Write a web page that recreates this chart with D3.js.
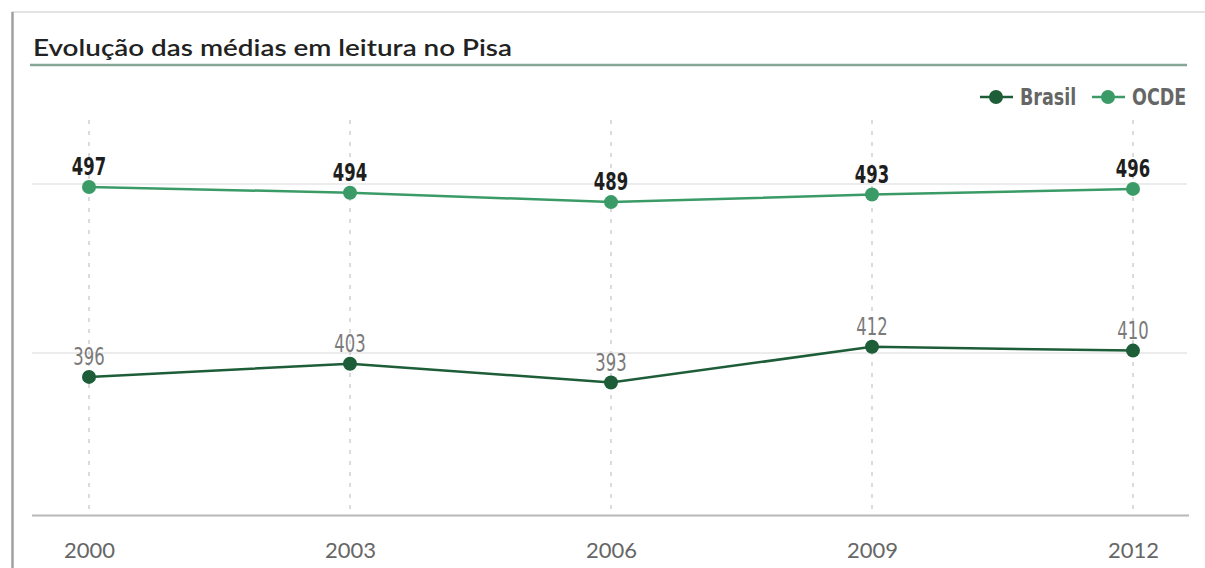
<!DOCTYPE html>
<html><head><meta charset="utf-8">
<script src="https://cdn.jsdelivr.net/npm/d3@7"></script>
<style>body{margin:0;background:#fff;}svg{display:block;}</style>
</head><body>
<script>
const years = ["2000","2003","2006","2009","2012"];
const brasil = [396, 403, 393, 412, 410];
const ocde = [497, 494, 489, 493, 496];
const seriesNames = ["Brasil","OCDE"];
const seriesColors = ["#1d5e38","#3a9b67"];
const gridValues = [410, 500];
const title = "Evolução das médias em leitura no Pisa";

const W = 1205, H = 568;
const svg = d3.select("body").append("svg").attr("width", W).attr("height", H);
const condensed = "'DejaVu Sans Condensed','DejaVu Sans',sans-serif";

// frame
svg.append("line").attr("x1",12).attr("x2",W).attr("y1",12).attr("y2",12).attr("stroke","#e3e3e3").attr("stroke-width",2);
svg.append("line").attr("x1",12.5).attr("x2",12.5).attr("y1",12).attr("y2",H).attr("stroke","#a0a0a0").attr("stroke-width",2.5);

// title
svg.append("text").attr("x",33).attr("y",56).text(title)
  .attr("font-family","Lato, 'Noto Sans', sans-serif").attr("font-weight",600).attr("font-size",22)
  .attr("fill","#222").attr("textLength",479).attr("lengthAdjust","spacingAndGlyphs");
svg.append("line").attr("x1",30).attr("x2",1187).attr("y1",65).attr("y2",65).attr("stroke","#86a696").attr("stroke-width",2.5);

const x = d3.scalePoint().domain(years).range([89,1133]);
const y = d3.scaleLinear().domain([322,500]).range([516,181.4]);

// grid
svg.append("g").selectAll("line").data(gridValues).join("line")
  .attr("x1",32).attr("x2",1187).attr("y1",d=>y(d)+2.5).attr("y2",d=>y(d)+2.5)
  .attr("stroke","#e6e6e6").attr("stroke-width",1.5);
svg.append("g").selectAll("line").data(years).join("line")
  .attr("x1",d=>x(d)).attr("x2",d=>x(d)).attr("y1",120).attr("y2",514)
  .attr("stroke","#c8c8c8").attr("stroke-width",1.3).attr("stroke-dasharray","4,7");

// x axis
const xAxis = svg.append("g").attr("transform","translate(0,515)")
  .call(d3.axisBottom(x).tickSize(0).tickPadding(30));
xAxis.select(".domain").remove();
svg.append("line").attr("x1",32).attr("x2",1189).attr("y1",515.5).attr("y2",515.5).attr("stroke","#b8b8b8").attr("stroke-width",2);
xAxis.selectAll("text").attr("font-family","Lato, 'Noto Sans', sans-serif").attr("font-size",22)
  .attr("fill","#666").attr("dy",0).attr("y",43);

const series = [
  {name:"Brasil", values:brasil, color:seriesColors[0], labelColor:"#7a7a7a", weight:500},
  {name:"OCDE", values:ocde, color:seriesColors[1], labelColor:"#1e1e1e", weight:700}
];
const line = d3.line().x((d,i)=>x(years[i])).y(d=>y(d));
series.forEach(s=>{
  svg.append("path").datum(s.values).attr("d",line).attr("fill","none")
    .attr("stroke",s.color).attr("stroke-width",2.5);
  svg.append("g").selectAll("circle").data(s.values).join("circle")
    .attr("cx",(d,i)=>x(years[i])).attr("cy",d=>y(d)).attr("r",7).attr("fill",s.color);
  svg.append("g").selectAll("text").data(s.values).join("text")
    .attr("transform",(d,i)=>`translate(${x(years[i])},${y(d)-12}) scale(0.85,1.12)`)
    .attr("text-anchor","middle")
    .attr("font-family",condensed)
    .attr("font-weight",s.weight).attr("font-size",21.5).attr("fill",s.labelColor).text(d=>d);
});

// legend
const legendX = [980, 1092];
const lg = svg.append("g").selectAll("g").data(seriesNames).join("g")
  .attr("transform",(d,i)=>`translate(${legendX[i]},97)`);
lg.append("line").attr("x1",0).attr("x2",33).attr("y1",0).attr("y2",0)
  .attr("stroke",(d,i)=>seriesColors[i]).attr("stroke-width",2.5);
lg.append("circle").attr("cx",16).attr("cy",0).attr("r",7).attr("fill",(d,i)=>seriesColors[i]);
lg.append("text").attr("transform","translate(40,8) scale(0.95,1.1)").text(d=>d)
  .attr("font-family",condensed)
  .attr("font-weight",700).attr("font-size",20.5).attr("fill","#666");
</script>
</body></html>
